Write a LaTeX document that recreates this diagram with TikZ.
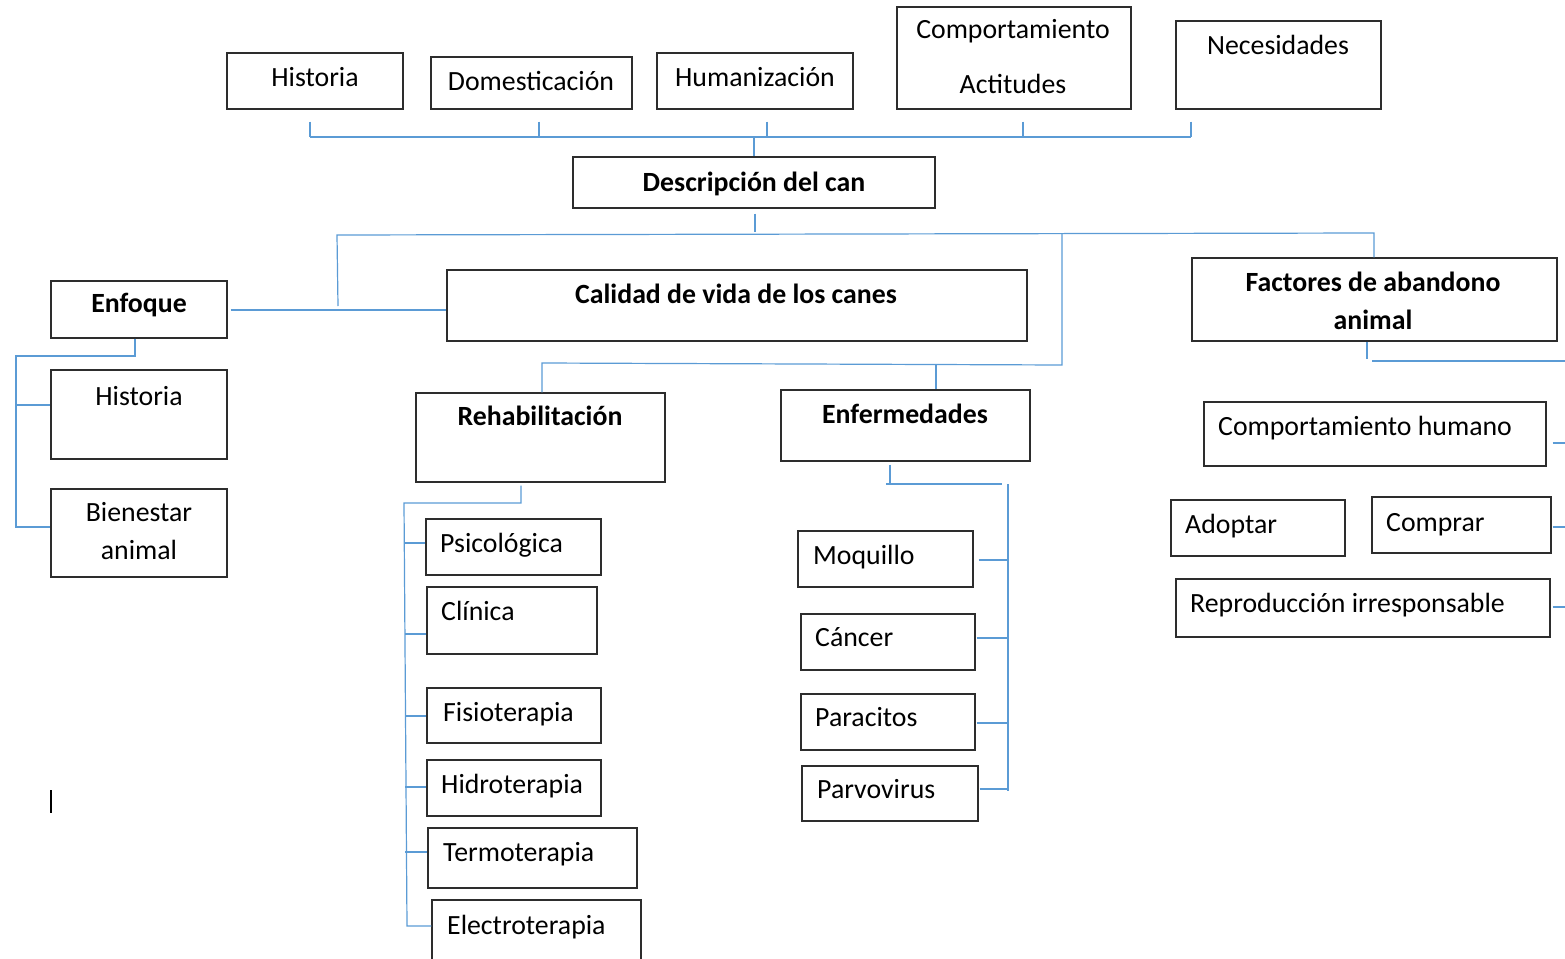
\documentclass[tikz,border=0pt]{standalone}
\usepackage{fontspec}
\setmainfont{Carlito}
\definecolor{lineblue}{RGB}{91,155,213}
\definecolor{boxgray}{RGB}{45,45,45}

\begin{document}
\begin{tikzpicture}[x=1pt, y=-1pt,
    box/.style={draw=boxgray, line width=1.3pt, inner sep=0pt},
    lbl/.style={inner sep=0pt, anchor=base, font=\fontsize{27.8}{38}\selectfont},
    lbll/.style={lbl, anchor=base west},
    link/.style={draw=lineblue, line width=1.2pt}]
    \useasboundingbox (0,0) rectangle (1565,958);
    \clip (0,0) rectangle (1565,958);

    % fila de arriba
    \node[box, minimum width=176, minimum height=56] (hist) at (315,81) {};
    \node[box, minimum width=201, minimum height=52] (dome) at (531.5,83) {};
    \node[box, minimum width=196, minimum height=56] (huma) at (755,81) {};
    \node[box, minimum width=234, minimum height=102] (comp) at (1014,58) {};
    \node[box, minimum width=205, minimum height=88] (nece) at (1278.5,65) {};
    \node[lbl] (hist-t) at (315,86) {Historia};
    \node[lbl] (dome-t) at (531,90) {Domesticación};
    \node[lbl] (huma-t) at (755,86) {Humanización};
    \node[lbl] (comp-t) at (1013,39) {Comportamiento};
    \node[lbl] (acti-t) at (1013,93) {Actitudes};
    \node[lbl] (nece-t) at (1278,55) {Necesidades};

    \node[box, minimum width=362, minimum height=51] (desc) at (754,182.5) {};
    \node[lbl] (desc-t) at (754,191) {\bfseries Descripción del can};

    % segundo nivel
    \node[box, minimum width=176, minimum height=57] (enfo) at (139,309.5) {};
    \node[box, minimum width=580, minimum height=71] (cali) at (737,305.5) {};
    \node[box, minimum width=365, minimum height=83] (fact) at (1374.5,299.5) {};
    \node[lbl] (enfo-t) at (139,312) {\bfseries Enfoque};
    \node[lbl] (cali-t) at (736,303) {\bfseries Calidad de vida de los canes};
    \node[lbl] (fact-t) at (1373,291) {\bfseries Factores de abandono};
    \node[lbl] (fact-u) at (1373,329) {\bfseries animal};

    % enfoque
    \node[box, minimum width=176, minimum height=89] (hisl) at (139,414.5) {};
    \node[box, minimum width=176, minimum height=88] (bien) at (139,533) {};
    \node[lbl] (hisl-t) at (139,405) {Historia};
    \node[lbl] (bien-t) at (139,521) {Bienestar};
    \node[lbl] (bien-u) at (139,559) {animal};

    % rehabilitacion
    \node[box, minimum width=249, minimum height=89] (reha) at (540.5,437.5) {};
    \node[lbl] (reha-t) at (540,425) {\bfseries Rehabilitación};
    \node[box, minimum width=175, minimum height=56] (psic) at (513.5,547) {};
    \node[box, minimum width=170, minimum height=67] (clin) at (512,620.5) {};
    \node[box, minimum width=174, minimum height=55] (fisi) at (514,715.5) {};
    \node[box, minimum width=174, minimum height=56] (hidr) at (514,788) {};
    \node[box, minimum width=209, minimum height=60] (term) at (532.5,858) {};
    \node[box, minimum width=209, minimum height=80] (elec) at (536.5,940) {};
    \node[lbll] (psic-t) at (440,552) {Psicológica};
    \node[lbll] (clin-t) at (441,620) {Clínica};
    \node[lbll] (fisi-t) at (443,721) {Fisioterapia};
    \node[lbll] (hidr-t) at (441,793) {Hidroterapia};
    \node[lbll] (term-t) at (443,861) {Termoterapia};
    \node[lbll] (elec-t) at (447,934) {Electroterapia};

    % enfermedades
    \node[box, minimum width=249, minimum height=71] (enfe) at (905.5,425.5) {};
    \node[lbl] (enfe-t) at (905,423) {\bfseries Enfermedades};
    \node[box, minimum width=175, minimum height=56] (moqu) at (885.5,559) {};
    \node[box, minimum width=174, minimum height=56] (canc) at (888,642) {};
    \node[box, minimum width=174, minimum height=56] (parc) at (888,722) {};
    \node[box, minimum width=176, minimum height=55] (parv) at (890,793.5) {};
    \node[lbll] (moqu-t) at (813,564) {Moquillo};
    \node[lbll] (canc-t) at (815,646) {Cáncer};
    \node[lbll] (parc-t) at (815,726) {Paracitos};
    \node[lbll] (parv-t) at (817,798) {Parvovirus};

    % factores
    \node[box, minimum width=342, minimum height=64] (comh) at (1375,434) {};
    \node[box, minimum width=174, minimum height=56] (adop) at (1258,528) {};
    \node[box, minimum width=179, minimum height=56] (comr) at (1461.5,525) {};
    \node[box, minimum width=374, minimum height=58] (repr) at (1363,608) {};
    \node[lbll] (comh-t) at (1218,435) {Comportamiento humano};
    \node[lbll] (adop-t) at (1185,533) {Adoptar};
    \node[lbll] (comr-t) at (1386,531) {Comprar};
    \node[lbll] (repr-t) at (1190,612) {Reproducción irresponsable};

    % lineas de arriba
    \coordinate (tA) at (310,137);
    \coordinate (tB) at (539,137);
    \coordinate (tC) at (767,137);
    \coordinate (tD) at (1023,137);
    \coordinate (tE) at (1191,137);
    \coordinate (tM) at (754,137);
    \draw[link] (tA) -- (tE);
    \foreach \b/\c in {hist/tA, dome/tB, huma/tC, comp/tD, nece/tE}
      \draw[link, shorten <=12pt] (\b.south -| \c) -- (\c);
    \draw[link] (tM) -- (desc.north -| tM);

    % lineas del medio
    \coordinate (mA) at (337,235);
    \coordinate (mB) at (755,235);
    \coordinate (mC) at (1062,234);
    \coordinate (mD) at (1374,233);
    \coordinate (eA) at (338,306);
    \coordinate (eL) at (230,310);
    \draw[link, shorten <=5pt, shorten >=3pt] (desc.south -| mB) -- (mB);
    \draw[link] (eA) -- (mA) -- (mD) -- (fact.north -| mD);
    \draw[link, shorten <=3pt] (enfo.east |- eL) -- (cali.west |- eL);
    \coordinate (rA) at (542,363);
    \coordinate (rB) at (936,364);
    \coordinate (rC) at (1062,365);
    \draw[link] (mC) -- (rC) -- (rA) -- (reha.north -| rA);
    \draw[link] (rB) -- (enfe.north -| rB);

    % ramas de enfoque
    \coordinate (fA) at (135,356);
    \coordinate (fB) at (16,356);
    \coordinate (fC) at (16,405);
    \coordinate (fD) at (16,527);
    \draw[link] (enfo.south -| fA) -- (fA) -- (fB) -- (fD) -- (bien.west |- fD);
    \draw[link] (fC) -- (hisl.west |- fC);

    % ramas de rehabilitacion
    \coordinate (gA) at (521,503);
    \coordinate (gB) at (404,503);
    \coordinate (gC) at (407,926);
    \draw[link, shorten <=3pt] (reha.south -| gA) -- (gA) -- (gB) -- (gC) -- (elec.west |- gC);
    \foreach \b/\y in {psic/543, clin/634, fisi/716, hidr/787, term/852} {
      \coordinate (s) at (405,\y);
      \draw[link] (s) -- (\b.west |- s);
    }

    % ramas de enfermedades
    \coordinate (hA) at (890,484);
    \coordinate (hB) at (886,484);
    \coordinate (hC) at (1002,484);
    \coordinate (vA) at (1008,484);
    \coordinate (vB) at (1008,791);
    \draw[link, shorten <=3pt] (enfe.south -| hA) -- (hA);
    \draw[link] (hB) -- (hC);
    \draw[link] (vA) -- (vB);
    \foreach \b/\y/\g in {moqu/560/5, canc/638/1, parc/723/1, parv/789/1} {
      \coordinate (s) at (1008,\y);
      \draw[link, shorten <=\g pt] (\b.east |- s) -- (s);
    }

    % ramas de factores
    \coordinate (kA) at (1367,359);
    \coordinate (kB) at (1372,361);
    \coordinate (kC) at (1565,361);
    \draw[link] (fact.south -| kA) -- (kA);
    \draw[link] (kB) -- (kC);
    \foreach \b/\y/\g in {comh/443/6, comr/527/1, repr/607/2} {
      \coordinate (s) at (1565,\y);
      \draw[link, shorten <=\g pt] (\b.east |- s) -- (s);
    }

    \draw[line width=1.3pt] (51,790) -- (51,813);
\end{tikzpicture}
\end{document}
